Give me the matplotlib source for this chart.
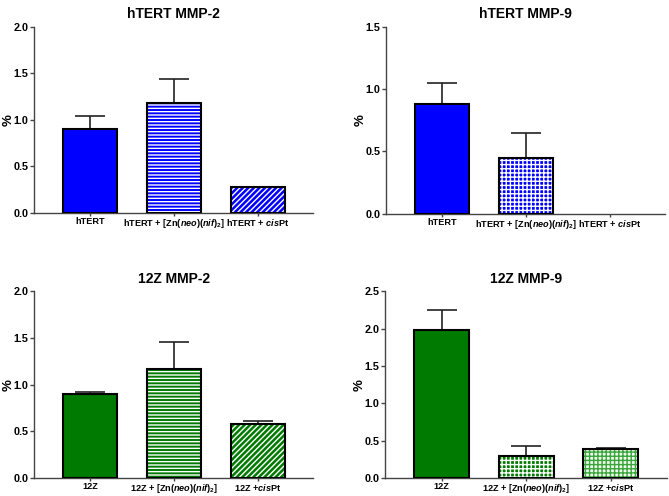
import matplotlib
matplotlib.use('Agg')
import matplotlib.pyplot as plt

plt.rcParams['font.family'] = ['Liberation Sans', 'DejaVu Sans']
plt.rcParams['font.weight'] = 'bold'
plt.rcParams['mathtext.fontset'] = 'custom'
plt.rcParams['mathtext.rm'] = 'Liberation Sans:bold'
plt.rcParams['mathtext.it'] = 'Liberation Sans:italic'
plt.rcParams['mathtext.bf'] = 'Liberation Sans:bold'
plt.rcParams['hatch.linewidth'] = 1.0

blue = '#0000ff'
green = '#007a00'

# data
titles = ['hTERT MMP-2', 'hTERT MMP-9', '12Z MMP-2', '12Z MMP-9']
labels_h = ['hTERT', r'hTERT + [Zn($\mathit{neo}$)($\mathit{nif}$)$_2$]', r'hTERT + $\mathit{cis}$Pt']
labels_z = ['12Z', r'12Z + [Zn($\mathit{neo}$)($\mathit{nif}$)$_2$]', r'12Z +$\mathit{cis}$Pt']
mean_h2 = [0.90, 1.18, 0.28]
err_h2 = [0.14, 0.26, 0.0]
mean_h9 = [0.88, 0.45, 0.0]
err_h9 = [0.17, 0.20, 0.0]
mean_z2 = [0.90, 1.17, 0.58]
err_z2 = [0.02, 0.29, 0.03]
mean_z9 = [1.98, 0.30, 0.39]
err_z9 = [0.27, 0.13, 0.01]
ymax = [2.0, 1.5, 2.0, 2.5]
ystep = [0.5, 0.5, 0.5, 0.5]

# per-bar fill: (face, hatch, hatch colour)
styles = [
    [(blue, None, None), (blue, '-----', 'white'), (blue, '//////', 'white')],
    [(blue, None, None), (blue, '++++', 'white'), (blue, '//////', 'white')],
    [(green, None, None), (green, '-----', 'white'), (green, '//////', 'white')],
    [(green, None, None), (green, '++++', 'white'), ('#eef8ee', '++++', '#3aa63a')],
]

axes_pos = [
    [0.051, 0.571, 0.417, 0.375],
    [0.577, 0.569, 0.417, 0.377],
    [0.051, 0.036, 0.417, 0.377],
    [0.5755, 0.036, 0.421, 0.377],
]

fig = plt.figure(figsize=(6.69, 4.96), dpi=100)
data = [(mean_h2, err_h2, labels_h), (mean_h9, err_h9, labels_h),
        (mean_z2, err_z2, labels_z), (mean_z9, err_z9, labels_z)]

for i, (m, e, labs) in enumerate(data):
    ax = fig.add_axes(axes_pos[i])
    x = [0, 1, 2]
    for j in range(3):
        face, hatch, hc = styles[i][j]
        if m[j] <= 0:
            continue
        ax.bar(x[j], m[j], width=0.65, color=face, edgecolor=hc if hatch else face,
               hatch=hatch, linewidth=0, zorder=2)
        ax.bar(x[j], m[j], width=0.65, facecolor='none', edgecolor='black',
               linewidth=1.5, zorder=3)
        if e[j] > 0:
            ax.errorbar(x[j], m[j], yerr=[[0], [e[j]]], fmt='none', ecolor='#222222',
                        elinewidth=1.2, capsize=11, capthick=1.2, zorder=1)
    ax.set_xlim(-0.67, 2.66)
    ax.set_ylim(0, ymax[i])
    ticks = [k * ystep[i] for k in range(int(round(ymax[i] / ystep[i])) + 1)]
    ax.set_yticks(ticks)
    ax.set_yticklabels(['%.1f' % t for t in ticks], fontsize=7.8, fontweight='bold')
    ax.set_xticks(x)
    ax.set_xticklabels(labs, fontsize=6.6, fontweight='bold')
    ax.tick_params(axis='y', length=3, width=1, color='#444444', pad=1)
    ax.tick_params(axis='x', length=2, width=1, color='#444444', pad=1)
    ax.spines['top'].set_visible(False)
    ax.spines['right'].set_visible(False)
    for s in ['left', 'bottom']:
        ax.spines[s].set_color('#444444')
        ax.spines[s].set_linewidth(1)
    ax.set_ylabel('%', fontsize=9.5, fontweight='bold')
    ax.yaxis.set_label_coords(-0.07, 0.5)
    ax.set_title(titles[i], fontsize=10, fontweight='bold', pad=6)

fig.savefig('out.png', dpi=100)
